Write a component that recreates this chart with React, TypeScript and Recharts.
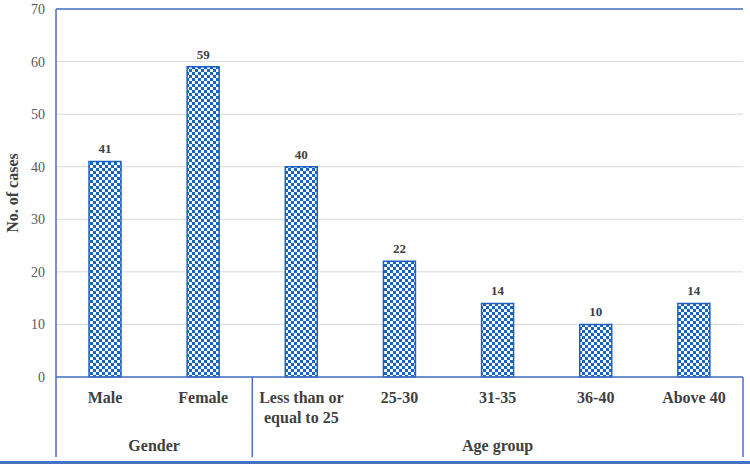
import { Bar, BarChart, CartesianGrid, LabelList, ReferenceLine, XAxis, YAxis } from "recharts";

const categories = ["Male", "Female", "Less than or\nequal to 25", "25-30", "31-35", "36-40", "Above 40"];
const cases = [41, 59, 40, 22, 14, 10, 14];
const groupNames = ["Gender", "Age group"];
const groupStarts = [0, 2];
const groupSpans = [2, 5];
const yTicks = [0, 10, 20, 30, 40, 50, 60, 70];

const data = categories.map((name, i) => ({ name, cases: cases[i] }));

const BLUE = "#4472c4";
const TEXT = "#404040";
const FONT = '"Liberation Serif", "Times New Roman", serif';

function CategoryTick({ x, y, payload }: any) {
  const lines = String(payload.value).split("\n");
  return (
    <text x={x} y={y + 26} textAnchor="middle" fill={TEXT} fontWeight="bold" fontSize={16} style={{ fontFamily: FONT }}>
      {lines.map((line, i) => (
        <tspan key={i} x={x} dy={i === 0 ? 0 : 20}>
          {line}
        </tspan>
      ))}
    </text>
  );
}

// second axis row: group names + separators between groups
function GroupTick({ x, y, payload, index }: any) {
  const half = payload.offset ?? 0;
  const g = groupStarts.indexOf(index);
  const last = index === categories.length - 1;
  return (
    <g>
      {g >= 0 && (
        <>
          <line x1={x - half} x2={x - half} y1={y - 50} y2={y + 30} stroke={BLUE} strokeWidth={1.5} />
          <text
            x={x - half + groupSpans[g] * half}
            y={y + 24}
            textAnchor="middle"
            fill={TEXT}
            fontWeight="bold"
            fontSize={16}
            style={{ fontFamily: FONT }}
          >
            {groupNames[g]}
          </text>
        </>
      )}
      {last && <line x1={x + half} x2={x + half} y1={y - 50} y2={y + 30} stroke={BLUE} strokeWidth={1.5} />}
    </g>
  );
}

export default function App() {
  return (
    <div style={{ width: 750, borderBottom: `3px solid ${BLUE}` }}>
      <style>{"body{margin:0}"}</style>
      <BarChart width={750} height={461} data={data} margin={{ top: 9, right: 7, bottom: 0, left: 0 }} barCategoryGap={0}>
        <defs>
          <pattern id="checker" width={6} height={6} patternUnits="userSpaceOnUse">
            <rect width={6} height={6} fill="#ffffff" />
            <rect x={0} y={0} width={3} height={3} fill="#1565c8" />
            <rect x={3} y={3} width={3} height={3} fill="#1565c8" />
          </pattern>
        </defs>
        <CartesianGrid vertical={false} stroke="#d9d9d9" />
        <XAxis
          dataKey="name"
          interval={0}
          height={50}
          tickLine={false}
          tickSize={0}
          tickMargin={0}
          axisLine={{ stroke: BLUE, strokeWidth: 1.5 }}
          tick={<CategoryTick />}
        />
        <XAxis
          xAxisId="group"
          dataKey="name"
          interval={0}
          height={34}
          axisLine={false}
          tickLine={false}
          tickSize={0}
          tickMargin={0}
          tick={<GroupTick />}
        />
        <YAxis
          width={56}
          domain={[0, 70]}
          ticks={yTicks}
          interval={0}
          tickLine={false}
          tickMargin={5}
          axisLine={{ stroke: BLUE, strokeWidth: 1.5 }}
          tick={{ fill: "#595959", fontSize: 14, style: { fontFamily: FONT } }}
          label={{
            value: "No. of cases",
            angle: -90,
            position: "insideLeft",
            offset: 12,
            style: { fill: TEXT, fontFamily: FONT, fontWeight: "bold", fontSize: 16, textAnchor: "middle" },
          }}
        />
        <YAxis
          yAxisId="right"
          orientation="right"
          width={0}
          domain={[0, 70]}
          tick={false}
          tickLine={false}
          axisLine={{ stroke: BLUE, strokeWidth: 1.5 }}
        />
        <ReferenceLine y={70} stroke={BLUE} strokeWidth={1.5} />
        <Bar dataKey="cases" barSize={32} fill="url(#checker)" stroke="#1f5fbf" strokeWidth={1.5} isAnimationActive={false}>
          <LabelList
            dataKey="cases"
            position="top"
            offset={8}
            style={{ fill: TEXT, fontFamily: FONT, fontWeight: "bold", fontSize: 13 }}
          />
        </Bar>
      </BarChart>
    </div>
  );
}
